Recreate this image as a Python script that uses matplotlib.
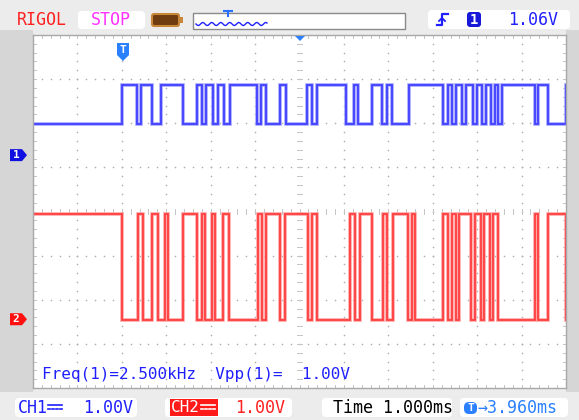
import numpy as np
import matplotlib.pyplot as plt
from matplotlib.patches import Rectangle, FancyBboxPatch, Polygon

# scope settings: 12 x 8 divisions, 1.000 ms/div, 1.00 V/div
time_per_div = 1.0
volt_per_div = 1.0

# CH1 (blue): edge times in ms from screen centre, level toggles at each edge
ch1_edges = [-4.00, -3.66, -3.57, -3.32, -3.12, -2.62, -2.31, -2.20, -2.11, -1.95,
             -1.84, -1.70, -1.57, -0.96, -0.87, -0.75, -0.44, -0.30, 0.17, 0.28,
             0.39, 1.05, 1.23, 1.32, 1.63, 1.86, 1.97, 2.08, 2.47, 3.23,
             3.34, 3.43, 3.52, 3.66, 3.75, 3.91, 4.00, 4.11, 4.20, 4.31,
             4.40, 4.47, 4.56, 5.30, 5.37, 5.60]
ch1_low, ch1_high = 1.98, 2.86        # V on screen
ch1_start_high = False

# CH2 (red)
ch2_edges = [-4.00, -3.64, -3.52, -3.32, -3.19, -3.03, -2.96, -2.62, -2.31, -2.20,
             -2.13, -1.97, -1.90, -1.72, -1.59, -0.93, -0.84, -0.75, -0.44, -0.33,
             0.19, 0.28, 0.39, 1.14, 1.25, 1.36, 1.63, 1.88, 1.97, 2.11,
             2.44, 2.53, 2.60, 3.23, 3.34, 3.43, 3.52, 3.59, 3.86, 3.95,
             4.09, 4.16, 4.29, 4.36, 4.47, 5.30, 5.37, 5.60]
ch2_low, ch2_high = -2.46, -0.05
ch2_start_high = True

ch1_gnd, ch2_gnd = 1.27, -2.46

W, H = 579, 420
fig = plt.figure(figsize=(W / 100, H / 100), dpi=100, facecolor='#ececec')

# pixel-space canvas for the screen chrome
bg = fig.add_axes([0, 0, 1, 1], zorder=0)
bg.set_xlim(0, W)
bg.set_ylim(H, 0)
bg.axis('off')

bg.add_patch(Rectangle((0, 30), 33, 362, color='#d6d6d6', lw=0))
bg.add_patch(Rectangle((566, 30), 13, 362, color='#d6d6d6', lw=0))

# scope grid axes
x0, y0, x1, y1 = 33, 35, 566, 388
ax = fig.add_axes([x0 / W, 1 - y1 / H, (x1 - x0) / W, (y1 - y0) / H], zorder=1)
ax.set_xlim(-6, 6)
ax.set_ylim(-4, 4)
ax.set_facecolor('white')
ax.set_xticks([])
ax.set_yticks([])
for s in ax.spines.values():
    s.set_color('#a8a8a8')
    s.set_linewidth(1)

dot = '#b0b0b0'
sub = np.arange(-30, 31) / 5
subv = np.arange(-20, 21) / 5
for gx in range(-5, 6):
    if gx == 0:
        continue
    ax.scatter(np.full(subv.size, gx), subv, s=1.4, color=dot, lw=0)
for gy in range(-3, 4):
    if gy == 0:
        continue
    ax.scatter(sub, np.full(sub.size, gy), s=1.4, color=dot, lw=0)
# tick marks on centre lines and borders
tl = 0.06
tc = '#c4c4c4'
for v in sub:
    ax.plot([v, v], [-tl, tl], color=tc, lw=0.7)
    ax.plot([v, v], [4 - tl, 4], color=tc, lw=0.7)
    ax.plot([v, v], [-4, -4 + tl], color=tc, lw=0.7)
for v in subv:
    ax.plot([-tl, tl], [v, v], color=tc, lw=0.7)
    ax.plot([-6, -6 + tl], [v, v], color=tc, lw=0.7)
    ax.plot([6 - tl, 6], [v, v], color=tc, lw=0.7)


def trace(edges, lo, hi, start_high):
    t = [-6.0] + list(edges) + [6.0]
    lv = []
    state = start_high
    for _ in range(len(t)):
        lv.append(hi if state else lo)
        state = not state
    return np.array(t) / time_per_div, np.array(lv) / volt_per_div


tx, ty = trace(ch1_edges, ch1_low, ch1_high, ch1_start_high)
ax.step(tx, ty, where='post', color='#a4a4ff', lw=2.6, solid_joinstyle='miter')
ax.step(tx, ty, where='post', color='#4040ff', lw=1.3, solid_joinstyle='miter')
tx, ty = trace(ch2_edges, ch2_low, ch2_high, ch2_start_high)
ax.step(tx, ty, where='post', color='#ffa4a4', lw=2.6, solid_joinstyle='miter')
ax.step(tx, ty, where='post', color='#ff4040', lw=1.3, solid_joinstyle='miter')

mono = 'DejaVu Sans Mono'
blue = '#2020ff'
red = '#ff2020'
ax.text(-5.8, -3.7, 'Freq(1)=2.500kHz  Vpp(1)=  1.00V', color=blue,
        family=mono, fontsize=11.5, va='center', ha='left')

# overlay for markers
ov = fig.add_axes([0, 0, 1, 1], zorder=2)
ov.set_xlim(0, W)
ov.set_ylim(H, 0)
ov.axis('off')

# header
bg.text(17, 20, 'RIGOL', color=red, family=mono, fontsize=12, va='center')
bg.add_patch(FancyBboxPatch((78, 11), 67, 18, boxstyle='round,pad=0,rounding_size=4',
                            fc='white', ec='none'))
bg.text(111, 20, 'STOP', color='#ff30ff', family=mono, fontsize=12, va='center', ha='center')
bg.add_patch(FancyBboxPatch((152, 14), 27, 12, boxstyle='round,pad=0,rounding_size=2',
                            fc='#6e3c10', ec='#c8883c', lw=1.5))
bg.add_patch(Rectangle((179, 17), 4, 6, fc='#c8883c', ec='none'))
bg.add_patch(Rectangle((193, 13), 212, 16, fc='white', ec='#8a8a8a', lw=1))
sx = np.linspace(196, 267, 200)
bg.plot(sx, 24 + 1.5 * np.sin((sx - 196) / 72 * 2 * np.pi * 8), color=blue, lw=1)
bg.plot([224, 232], [11, 11], color='#2a70ff', lw=1.5)
bg.plot([228, 228], [11, 16], color='#2a70ff', lw=1.5)

bg.add_patch(FancyBboxPatch((428, 10), 142, 19, boxstyle='round,pad=0,rounding_size=4',
                            fc='white', ec='none'))
bg.plot([437, 442, 442, 448], [25, 25, 14, 14], color=blue, lw=1.6)
bg.plot([439, 442, 445], [21, 18, 21], color=blue, lw=1.3)
bg.add_patch(FancyBboxPatch((467, 12), 14, 15, boxstyle='round,pad=0,rounding_size=3',
                            fc='#1818d8', ec='none'))
bg.text(474, 19.5, '1', color='white', family=mono, fontsize=10, fontweight='bold',
        va='center', ha='center')
bg.text(508, 20, '1.06V', color=blue, family=mono, fontsize=12, va='center')

# trigger markers
ov.add_patch(Polygon([[117, 43], [129, 43], [129, 55], [123, 61], [117, 55]],
                     closed=True, fc='#2a80ff', ec='none'))
ov.text(123, 50, 'T', color='white', family=mono, fontsize=8, fontweight='bold',
        va='center', ha='center')
ov.add_patch(Polygon([[295, 36], [305, 36], [300, 41]], closed=True, fc='#2a80ff', ec='none'))


# channel ground markers
def gnd_marker(yv, label, col):
    yp = 211 - yv * 44
    ov.add_patch(Polygon([[10, yp - 6], [22, yp - 6], [27, yp], [22, yp + 6], [10, yp + 6]],
                         closed=True, fc=col, ec='none'))
    ov.text(16, yp, label, color='white', family=mono, fontsize=8, fontweight='bold',
            va='center', ha='center')


gnd_marker(ch1_gnd, '1', '#1010e0')
gnd_marker(ch2_gnd, '2', '#ff1010')


# bottom status bar
def dc_icon(x, y, col):
    bg.plot([x, x + 14], [y - 2, y - 2], color=col, lw=1.2)
    for k in range(4):
        bg.plot([x + k * 4, x + k * 4 + 2], [y + 2, y + 2], color=col, lw=1.2)


bg.add_patch(FancyBboxPatch((15, 398), 122, 19, boxstyle='round,pad=0,rounding_size=4',
                            fc='white', ec='none'))
bg.text(18, 408, 'CH1', color=blue, family=mono, fontsize=12, va='center')
dc_icon(48, 407, blue)
bg.text(83, 408, '1.00V', color=blue, family=mono, fontsize=12, va='center')

bg.add_patch(FancyBboxPatch((165, 398), 127, 19, boxstyle='round,pad=0,rounding_size=4',
                            fc='white', ec='none'))
bg.add_patch(Rectangle((170, 399), 48, 17, fc='#ff1a1a', ec='none'))
bg.text(171, 408, 'CH2', color='white', family=mono, fontsize=11.5, va='center')
dc_icon(201, 407, 'white')
bg.text(235, 408, '1.00V', color=red, family=mono, fontsize=12, va='center')

bg.add_patch(FancyBboxPatch((322, 398), 130, 19, boxstyle='round,pad=0,rounding_size=4',
                            fc='white', ec='none'))
bg.text(333, 408, 'Time 1.000ms', color='black', family=mono, fontsize=12, va='center')

bg.add_patch(FancyBboxPatch((460, 398), 108, 19, boxstyle='round,pad=0,rounding_size=4',
                            fc='white', ec='none'))
bg.add_patch(FancyBboxPatch((464, 402), 13, 12, boxstyle='round,pad=0,rounding_size=5',
                            fc='#2a80ff', ec='none'))
bg.text(470.5, 408, 'T', color='white', family=mono, fontsize=8, fontweight='bold',
        va='center', ha='center')
bg.text(477, 408, '\u21923.960ms', color='#2a80ff', family=mono, fontsize=12, va='center')

fig.savefig('out.png', dpi=100, facecolor=fig.get_facecolor())
